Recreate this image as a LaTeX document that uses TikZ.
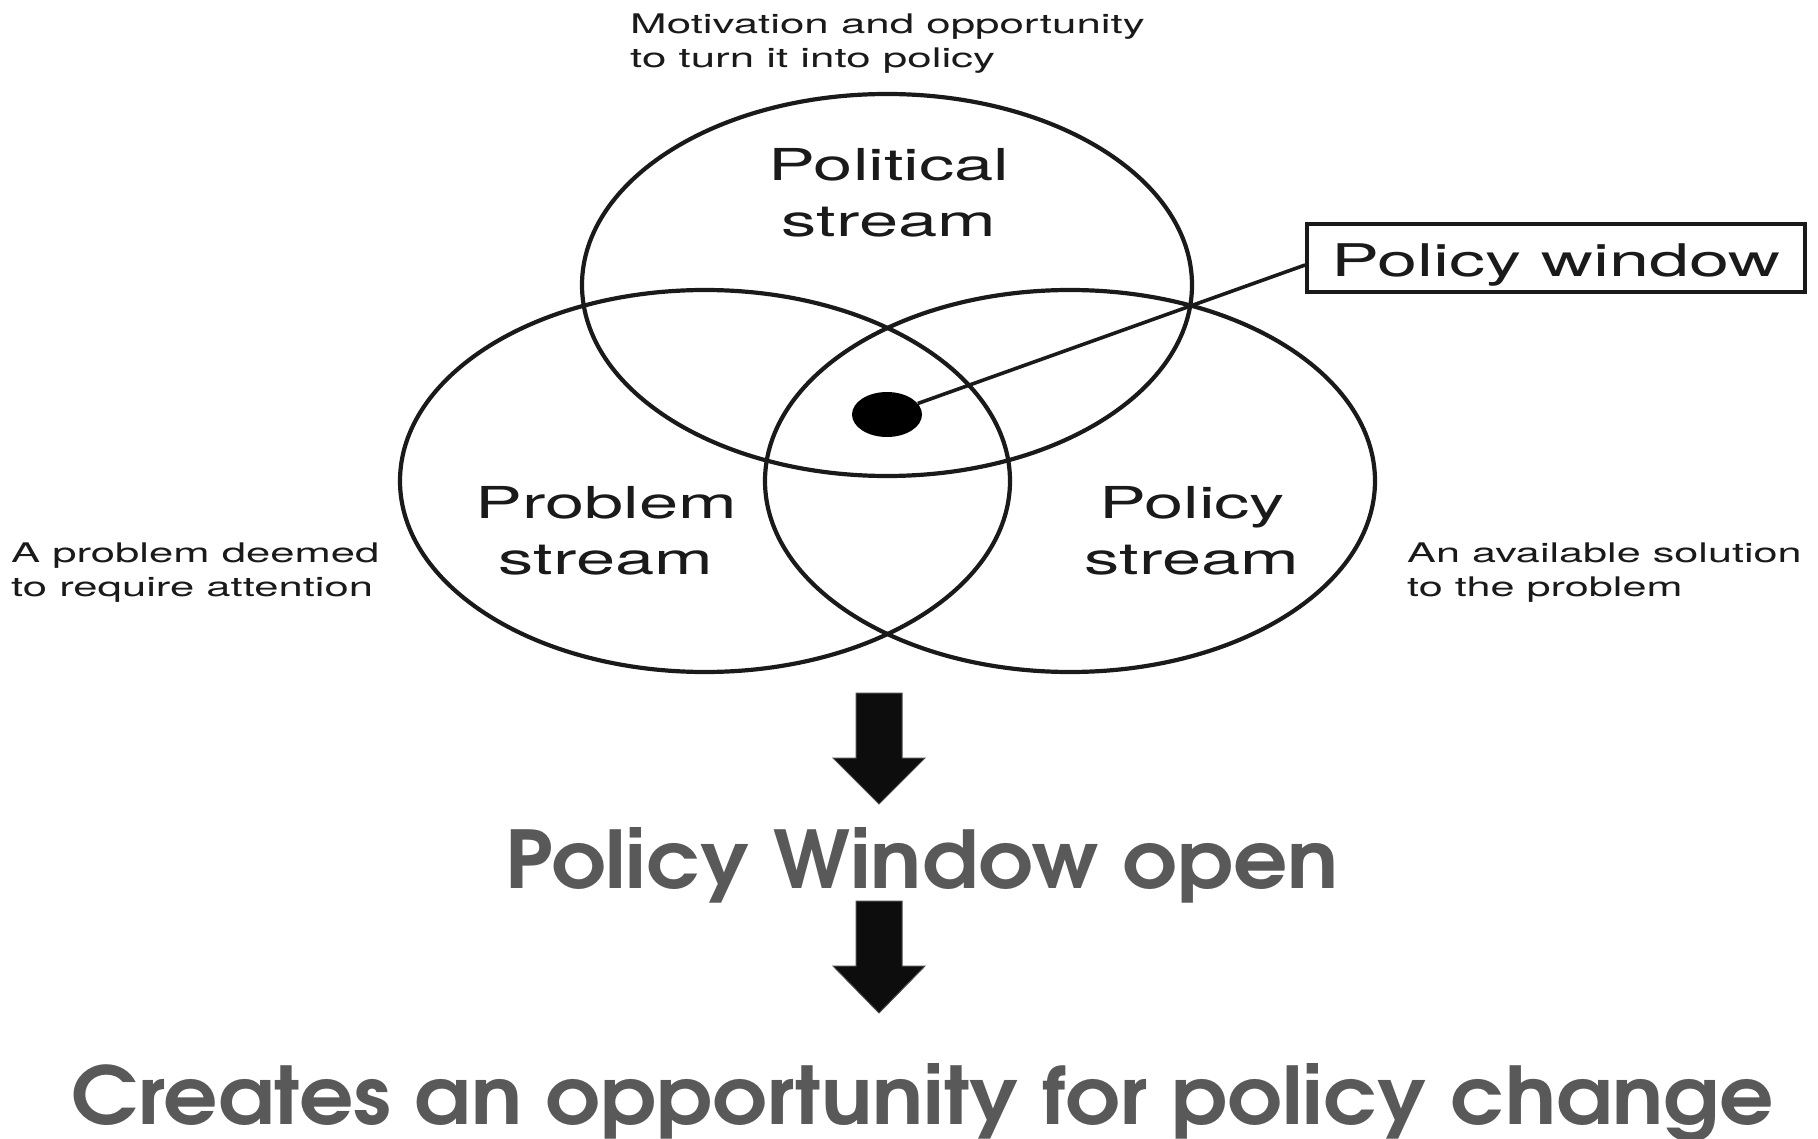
\documentclass[tikz,border=0pt]{standalone}
\usepackage{fontspec}
\setmainfont{TeX Gyre Heros}
\newfontfamily\adv{texgyreadventor-bold.otf}
\usepackage{graphicx}
\usetikzlibrary{shapes.geometric}
\definecolor{txtgray}{HTML}{595959}
\definecolor{inkc}{HTML}{1A1A1A}
\begin{document}
\begin{tikzpicture}[x=1pt,y=-1pt,
  venn/.style={ellipse, draw=inkc, line width=4.2pt, inner sep=0pt, minimum width=610pt, minimum height=382pt},
  smalltxt/.style={inner sep=0pt, text=inkc, font=\fontsize{27}{34}\selectfont},
  bigtxt/.style={inner sep=0pt, text=inkc, font=\fontsize{44}{56}\selectfont},
  blockarrow/.style={fill=black!95, draw=black!70, line width=1pt},
  headline/.style={inner sep=0pt, text=txtgray, anchor=base}]
\useasboundingbox (0,0) rectangle (1818,1139);
% Venn ellipses
\node[venn] (political) at (887,285) {};
\node[venn] (problem) at (705,481) {};
\node[venn] (policy) at (1070,481) {};
% stream labels
\node[bigtxt, anchor=base] (politicaltxt) at (889,181) {\scalebox{1.6}[1]{\begin{tabular}[t]{@{}c@{}}Political\\stream\end{tabular}}};
\node[bigtxt, anchor=base] (problemtxt) at (606,518) {\scalebox{1.6}[1]{\begin{tabular}[t]{@{}c@{}}Problem\\stream\end{tabular}}};
\node[bigtxt, anchor=base] (policytxt) at (1192,518) {\scalebox{1.6}[1]{\begin{tabular}[t]{@{}c@{}}Policy\\stream\end{tabular}}};
% side notes
\node[smalltxt, anchor=base west] (motiv) at (630,33.5) {\scalebox{1.625}[1]{\begin{tabular}[t]{@{}l@{}}Motivation and opportunity\\to turn it into policy\end{tabular}}};
\node[smalltxt, anchor=base west] (deemed) at (11,562) {\scalebox{1.615}[1]{\begin{tabular}[t]{@{}l@{}}A problem deemed\\to require attention\end{tabular}}};
\node[smalltxt, anchor=base west] (solution) at (1407,562) {\scalebox{1.6}[1]{\begin{tabular}[t]{@{}l@{}}An available solution\\to the problem\end{tabular}}};
% policy window
\node[ellipse, fill=black, inner sep=0pt, minimum width=70pt, minimum height=45pt] (dot) at (887,414.5) {};
\node[draw=inkc, line width=3.8pt, inner sep=0pt, minimum width=498pt, minimum height=68pt] (pw) at (1556,258) {};
\node[inner sep=0pt, text=inkc, anchor=base] (pwtxt) at (1556,277) {\scalebox{1.6}[1]{\fontsize{45}{54}\selectfont Policy window}};
\draw[inkc, line width=3.6pt] (dot) -- ([yshift=-7pt]pw.west);
% block arrows
\fill[blockarrow] (856,693) -- (902,693) -- (902,758) -- (925,758) -- (879,804) -- (833,758) -- (856,758) -- cycle;
\fill[blockarrow] (856,901) -- (902,901) -- (902,966) -- (925,966) -- (879,1013) -- (833,966) -- (856,966) -- cycle;
% headlines
\node[headline] (open) at (922,888) {\resizebox{834pt}{61pt}{\adv Policy Window open}};
\node[headline] (creates) at (923,1124) {\resizebox{1702pt}{61pt}{\adv Creates an opportunity for policy change}};
\end{tikzpicture}
\end{document}
